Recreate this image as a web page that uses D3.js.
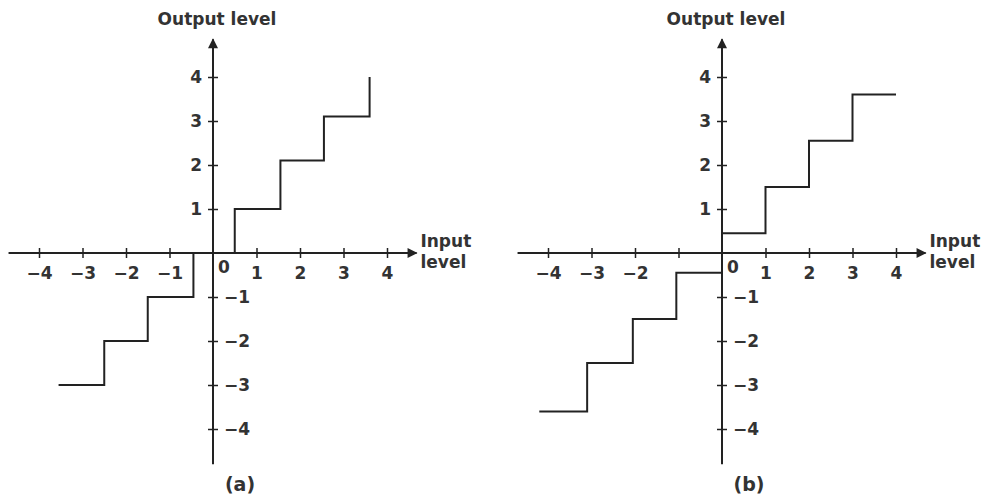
<!DOCTYPE html>
<html>
<head>
<meta charset="utf-8">
<script src="https://cdn.jsdelivr.net/npm/d3@7"></script>
<style>
  body { margin: 0; background: #fff; }
  text { font-family: "DejaVu Sans", Verdana, sans-serif; font-weight: bold; fill: #333; }
</style>
</head>
<body>
<div id="chart"></div>
<script>
// quantizer transfer curves
let xTicks = [-4, -3, -2, -1, 1, 2, 3, 4];
let yTicks = [-4, -3, -2, -1, 1, 2, 3, 4];
let xLabelsA = ["\u22124", "\u22123", "\u22122", "\u22121", "1", "2", "3", "4"];
let xLabelsB = ["\u22124", "\u22123", "\u22122", "", "1", "2", "3", "4"];
let yLabels = ["\u22124", "\u22123", "\u22122", "\u22121", "1", "2", "3", "4"];

// (a) mid-rise: step edges and levels
let stepsAx = [-3.55, -2.5, -1.5, -0.45, 0.5, 1.55, 2.55, 3.6];
let stepsAy = [-3, -2, -1, 0, 1, 2.1, 3.1, 4];

// (b) mid-tread
let stepsBx = [-4.2, -3.1, -2.05, -1.05, 0, 1.0, 2.0, 3.0, 4.0];
let stepsBy = [-3.6, -2.5, -1.5, -0.45, 0.45, 1.5, 2.55, 3.6, 3.6];

let svgWidth = 987;
let svgHeight = 496;

let svg = d3.select("#chart")
  .append("svg")
  .attr("width", svgWidth)
  .attr("height", svgHeight)

svg.append("defs").append("marker")
  .attr("id", "arrow")
  .attr("viewBox", "0 0 10 10")
  .attr("refX", 9)
  .attr("refY", 5)
  .attr("markerWidth", 12)
  .attr("markerHeight", 10)
  .attr("markerUnits", "userSpaceOnUse")
  .attr("orient", "auto")
  .append("path")
  .attr("d", "M0,0 L10,5 L0,10 Z")
  .attr("fill", "#222")

function panel(ox, xLabels, sx, sy, caption) {
  let xScale = d3.scaleLinear().domain([-4, 4]).range([ox - 174, ox + 174])
  let yScale = d3.scaleLinear().domain([-4, 4]).range([429, 77])
  let g = svg.append("g")

  // axis lines with arrows
  g.append("line")
    .attr("x1", xScale(-4.7)).attr("x2", xScale(4.68))
    .attr("y1", yScale(0)).attr("y2", yScale(0))
    .attr("stroke", "#222").attr("stroke-width", 2)
    .attr("marker-end", "url(#arrow)")
  g.append("line")
    .attr("x1", xScale(0)).attr("x2", xScale(0))
    .attr("y1", yScale(-4.8)).attr("y2", yScale(4.86))
    .attr("stroke", "#222").attr("stroke-width", 2)
    .attr("marker-end", "url(#arrow)")

  // x ticks
  let xAxis = d3.axisBottom(xScale)
    .tickValues(xTicks)
    .tickSize(5)
    .tickPadding(9)
    .tickFormat((d, i) => xLabels[i])
  let gx = g.append("g")
    .attr("transform", `translate(0,${yScale(0)})`)
    .call(xAxis)
  gx.select(".domain").remove()
  gx.selectAll("line").attr("y1", -5).attr("stroke", "#222").attr("stroke-width", 1.5)
  gx.selectAll("text").style("font-size", "17px").attr("font-family", null).attr("fill", "#333")

  // y ticks
  let yAxis = d3.axisLeft(yScale)
    .tickValues(yTicks)
    .tickSize(5)
    .tickPadding(6)
    .tickFormat((d, i) => yLabels[i])
  let gy = g.append("g")
    .attr("transform", `translate(${xScale(0)},0)`)
    .call(yAxis)
  gy.select(".domain").remove()
  gy.selectAll("line").attr("x1", 5).attr("stroke", "#222").attr("stroke-width", 1.5)
  gy.selectAll("text").style("font-size", "17px").attr("font-family", null).attr("fill", "#333")
  // negative labels sit to the right of the axis
  gy.selectAll(".tick").filter(d => d < 0).select("text")
    .attr("x", 11).attr("text-anchor", "start")

  // zero label
  g.append("text")
    .attr("x", xScale(0) + 5).attr("y", yScale(0) + 20)
    .style("font-size", "17px")
    .text("0")

  // staircase
  let pts = sx.map((d, i) => [d, sy[i]])
  let line = d3.line()
    .x(d => xScale(d[0]))
    .y(d => yScale(d[1]))
    .curve(d3.curveStepAfter)
  g.append("path")
    .attr("d", line(pts))
    .attr("fill", "none")
    .attr("stroke", "#222")
    .attr("stroke-width", 2)

  // labels
  g.append("text")
    .attr("x", xScale(0) + 4).attr("y", 25)
    .attr("text-anchor", "middle")
    .style("font-size", "17px")
    .text("Output level")
  g.append("text")
    .attr("x", xScale(4.7) + 3).attr("y", 247)
    .style("font-size", "17px")
    .text("Input")
  g.append("text")
    .attr("x", xScale(4.7) + 3).attr("y", 268)
    .style("font-size", "17px")
    .text("level")
  g.append("text")
    .attr("x", xScale(0) + 27).attr("y", 491)
    .attr("text-anchor", "middle")
    .style("font-size", "19px")
    .text(caption)
}

panel(213, xLabelsA, stepsAx, stepsAy, "(a)")
panel(722, xLabelsB, stepsBx, stepsBy, "(b)")
</script>
</body>
</html>
